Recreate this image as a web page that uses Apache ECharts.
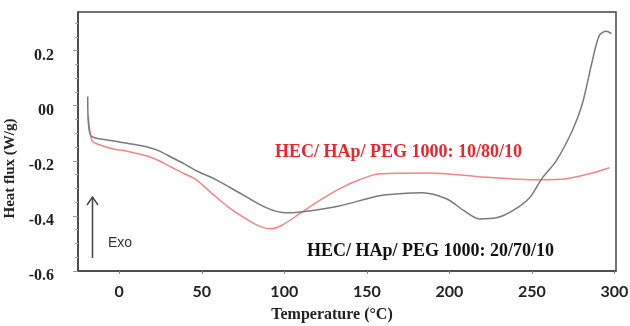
<!DOCTYPE html>
<html>
<head>
<meta charset="utf-8">
<script src="https://cdn.jsdelivr.net/npm/echarts@6/dist/echarts.min.js"></script>
<style>
  html, body { margin: 0; padding: 0; background: #fff; }
  #chart { width: 630px; height: 326px; }
</style>
</head>
<body>
<div id="chart"></div>
<script>
// DSC curves
const tempGray = [-19.1, -18.8, -17.2, -12.1, -4.2, 6.1, 16.4, 24.2, 32.1, 39.4, 46.7, 58.8, 72.7, 88.9, 101.2, 115.2, 133.3, 157.6, 169.7, 183.6, 198.2, 209.1, 218.2, 228.5, 238.2, 248.5, 256.4, 264.8, 274.5, 280.6, 286.7, 290.9, 295, 298.2]
const fluxGray = [0.033, -0.055, -0.109, -0.12, -0.127, -0.138, -0.149, -0.164, -0.189, -0.211, -0.236, -0.269, -0.316, -0.37, -0.389, -0.382, -0.364, -0.327, -0.32, -0.316, -0.338, -0.382, -0.411, -0.407, -0.382, -0.335, -0.262, -0.2, -0.091, 0.007, 0.164, 0.255, 0.27, 0.262]

const tempRed = [-18.8, -16.5, -12.1, -4.2, 6.1, 16.4, 24.2, 32.1, 39.4, 46.7, 56.4, 66.7, 78.8, 86.1, 92.1, 98.8, 109.1, 121.2, 133.3, 145.5, 157.6, 187.9, 218.2, 254.5, 270.9, 286.7, 297]
const fluxRed = [-0.036, -0.127, -0.142, -0.156, -0.167, -0.182, -0.2, -0.225, -0.247, -0.269, -0.32, -0.371, -0.418, -0.44, -0.447, -0.433, -0.393, -0.345, -0.302, -0.269, -0.247, -0.244, -0.258, -0.269, -0.265, -0.244, -0.225]

const xTicks = [0, 50, 100, 150, 200, 250, 300]
const yTicks = [-0.6, -0.4, -0.2, 0, 0.2]
const yTickLabels = ['-0.6', '-0.4', '-0.2', '00', '0.2']

const labelRed = 'HEC/ HAp/ PEG 1000: 10/80/10'
const labelGray = 'HEC/ HAp/ PEG 1000: 20/70/10'

function pairs(xs, ys) {
  return xs.map((x, i) => [x, ys[i]])
}

const chart = echarts.init(document.getElementById('chart'))

const serifBold = {
  fontFamily: 'Liberation Serif',
  fontWeight: 'bold',
  color: '#222',
}

const option = {
  animation: false,
  grid: {
    left: 78,
    right: 14,
    top: 12,
    bottom: 55,
    outerBoundsMode: 'none',
    show: true,
    borderColor: '#444',
    borderWidth: 1.5,
  },
  xAxis: {
    type: 'value',
    min: -25,
    max: 301,
    name: 'Temperature (°C)',
    nameLocation: 'middle',
    nameGap: 36,
    nameTextStyle: Object.assign({}, serifBold, { fontSize: 16, padding: [0, 30, 0, 0] }),
    splitLine: { show: false },
    axisLine: { show: true, onZero: false, lineStyle: { color: '#444', width: 1.5 } },
    axisTick: {
      show: true,
      customValues: xTicks,
      length: 3,
      lineStyle: { color: '#888' },
    },
    axisLabel: {
      customValues: xTicks,
      margin: 13,
      fontFamily: 'Lato',
      fontWeight: 'bold',
      fontSize: 16,
      color: '#222',
    },
  },
  yAxis: {
    type: 'value',
    min: -0.6,
    max: 0.34,
    interval: 0.2,
    name: 'Heat flux (W/g)',
    nameLocation: 'middle',
    nameGap: 55,
    nameTextStyle: Object.assign({}, serifBold, { fontSize: 15, padding: [0, 54, 0, 0] }),
    splitLine: { show: false },
    axisLine: { show: true, onZero: false, lineStyle: { color: '#444', width: 1.5 } },
    axisTick: {
      show: true,
      customValues: yTicks,
      length: 5,
      lineStyle: { color: '#999' },
    },
    minorTick: {
      show: true,
      splitNumber: 4,
      length: 3,
      lineStyle: { color: '#aaa' },
    },
    axisLabel: {
      customValues: yTicks,
      margin: 24,
      verticalAlign: 'top',
      lineHeight: 10,
      fontFamily: 'Liberation Serif',
      fontWeight: 'bold',
      fontSize: 16,
      color: '#222',
      formatter: function (v) {
        const i = yTicks.findIndex((t) => Math.abs(t - v) < 1e-6)
        return i >= 0 ? yTickLabels[i] : ''
      },
    },
  },
  series: [
    {
      name: labelRed,
      type: 'line',
      smooth: 0.3,
      showSymbol: false,
      data: pairs(tempRed, fluxRed),
      lineStyle: { color: '#f28585', width: 1.5 },
    },
    {
      name: labelGray,
      type: 'line',
      smooth: 0.3,
      showSymbol: false,
      data: pairs(tempGray, fluxGray),
      lineStyle: { color: '#7a7a7a', width: 1.5 },
    },
  ],
  graphic: [
    {
      type: 'text',
      x: 275,
      y: 152,
      style: {
        text: labelRed,
        fontFamily: 'Liberation Serif',
        fontWeight: 'bold',
        fontSize: 18,
        fill: '#e8262c',
        verticalAlign: 'middle',
      },
    },
    {
      type: 'text',
      x: 307,
      y: 251,
      style: {
        text: labelGray,
        fontFamily: 'Liberation Serif',
        fontWeight: 'bold',
        fontSize: 18,
        fill: '#111',
        verticalAlign: 'middle',
      },
    },
    {
      type: 'text',
      x: 108,
      y: 243,
      style: {
        text: 'Exo',
        fontFamily: 'Liberation Sans',
        fontSize: 14,
        fill: '#333',
        verticalAlign: 'middle',
      },
    },
    {
      type: 'line',
      shape: { x1: 92.5, y1: 258, x2: 92.5, y2: 197 },
      style: { stroke: '#444', lineWidth: 1.5 },
    },
    {
      type: 'polyline',
      shape: { points: [[87, 205], [92.5, 197], [98, 205]] },
      style: { stroke: '#444', lineWidth: 1.5, fill: null },
    },
  ],
}

chart.setOption(option)
</script>
</body>
</html>
